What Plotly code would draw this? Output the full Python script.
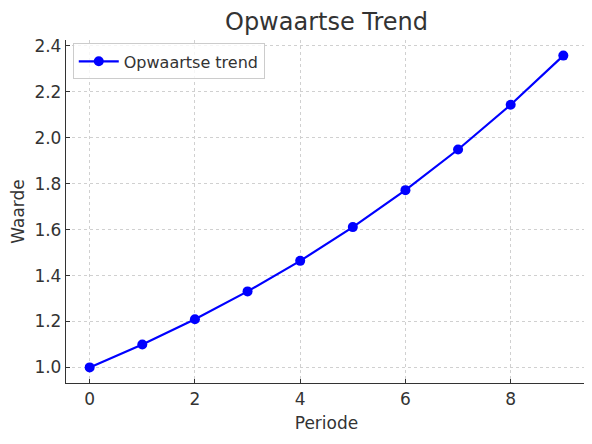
import plotly.graph_objects as go

periode = [0, 1, 2, 3, 4, 5, 6, 7, 8, 9]
waarde = [1.0, 1.1, 1.21, 1.331, 1.464, 1.611, 1.772, 1.949, 2.144, 2.358]

fig = go.Figure()
fig.add_trace(go.Scatter(
    x=periode, y=waarde, mode="lines+markers", name="Opwaartse trend",
    line=dict(color="#0000ff", width=2.2), marker=dict(color="#0000ff", size=10),
))

axis_common = dict(
    showgrid=True, gridcolor="#d0d0d0", griddash="3px,3px", gridwidth=1,
    showline=True, linecolor="#333333", linewidth=1.3, mirror=False,
    ticks="inside", ticklen=4, tickcolor="#333333", zeroline=False,
    tickfont=dict(size=17, color="#333333"), automargin=False,
)

fig.update_layout(
    width=584, height=436,
    paper_bgcolor="white", plot_bgcolor="white",
    font=dict(family="DejaVu Sans", color="#333333"),
    margin=dict(l=58, r=5, t=32, b=61),
    title=dict(text="Opwaartse Trend", xref="paper", x=0.5, xanchor="center",
               y=0.968, yanchor="middle",
               font=dict(size=24, color="#333333")),
    xaxis=dict(axis_common, range=[-0.45, 9.45], tickvals=[0, 2, 4, 6, 8],
               title=dict(text="Periode", font=dict(size=17, color="#333333"), standoff=9)),
    yaxis=dict(axis_common, range=[0.932, 2.426], tickvals=[1.0, 1.2, 1.4, 1.6, 1.8, 2.0, 2.2, 2.4],
               tickformat=".1f",
               title=dict(text="Waarde", font=dict(size=17, color="#333333"), standoff=8)),
    legend=dict(x=0.013, y=0.99, xanchor="left", yanchor="top",
                bgcolor="rgba(255,255,255,0.8)", bordercolor="#cccccc", borderwidth=1,
                itemwidth=40,
                font=dict(size=16, color="#333333")),
    showlegend=True,
)

fig.write_html("out.html")
